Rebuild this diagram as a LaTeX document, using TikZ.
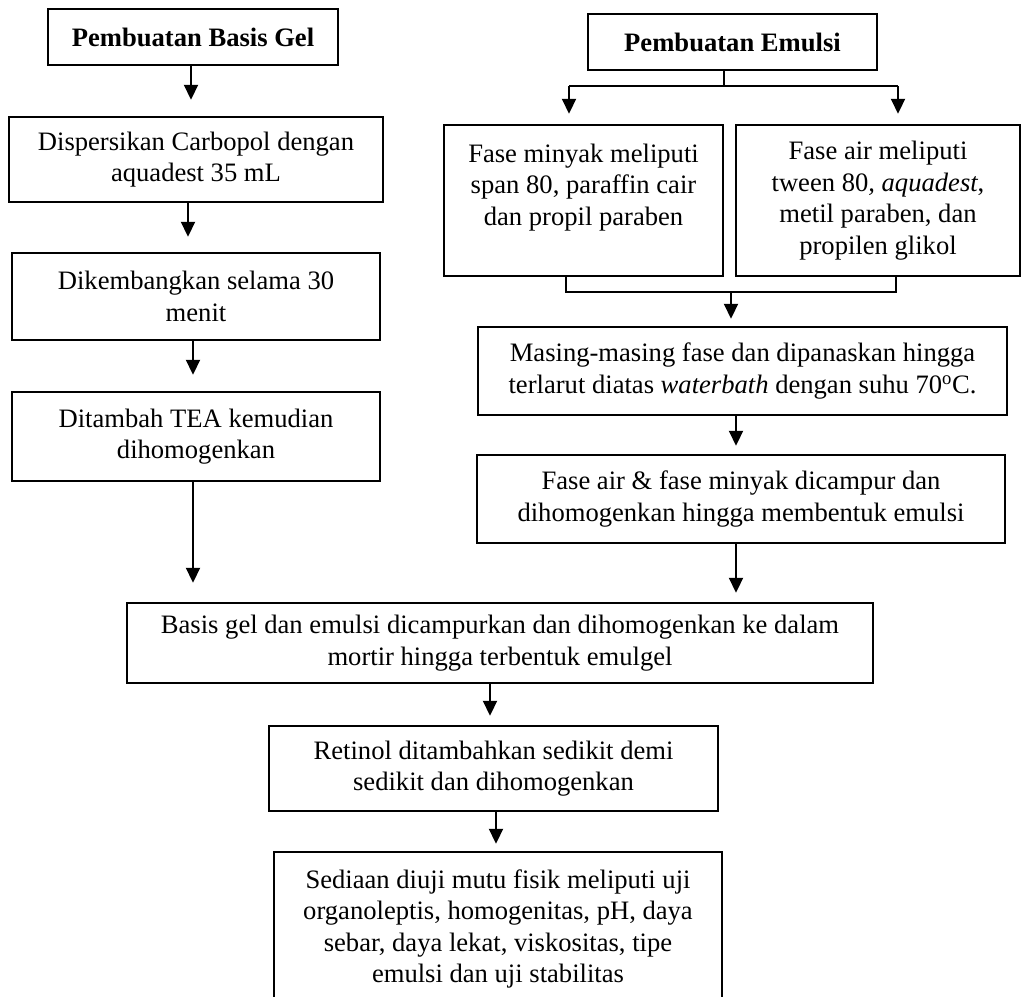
\documentclass[tikz,border=0pt]{standalone}
\usepackage{fontspec}
\setmainfont{Liberation Serif}
\usetikzlibrary{arrows.meta}
\begin{document}
\begin{tikzpicture}[x=1pt,y=-1pt,
  box/.style={draw,line width=2.5pt,align=center,inner sep=0pt,
    font=\fontsize{26.6}{31.5}\selectfont},
  arr/.style={line width=2.2pt,-{Triangle[length=15pt,width=14pt]}},
  ln/.style={line width=2.2pt}]
\useasboundingbox (0,0) rectangle (1025,996);
% left column
\node[box,minimum width=290pt,minimum height=56pt,font=\fontsize{26.6}{31.5}\selectfont\bfseries] (a1) at (193,37) {Pembuatan Basis Gel};
\node[box,minimum width=374pt,minimum height=85pt] (a2) at (196,159.5) {Dispersikan Carbopol dengan\\aquadest 35 mL};
\node[box,minimum width=368pt,minimum height=87pt] (a3) at (196,296.5) {Dikembangkan selama 30\\menit};
\node[box,minimum width=368pt,minimum height=89pt] (a4) at (196,436.5) {Ditambah TEA kemudian\\dihomogenkan};
% right column
\node[box,minimum width=289pt,minimum height=56pt,font=\fontsize{26.6}{31.5}\selectfont\bfseries] (b1) at (732.5,42) {Pembuatan Emulsi};
\node[box,minimum width=279pt,minimum height=151pt] (b2) at (583.5,200.5) {Fase minyak meliputi\\span 80, paraffin cair\\dan propil paraben\\\mbox{}};
\node[box,minimum width=284pt,minimum height=151pt] (b3) at (878,200.5) {Fase air meliputi\\tween 80\textit{, aquadest},\\metil paraben, dan\\propilen glikol};
\node[box,minimum width=529pt,minimum height=88pt] (b4) at (742.5,371) {Masing-masing fase dan dipanaskan hingga\\terlarut diatas \textit{waterbath} dengan suhu 70\textsuperscript{o}C.};
\node[box,minimum width=528pt,minimum height=88pt] (b5) at (741,499) {Fase air \& fase minyak dicampur dan\\dihomogenkan hingga membentuk emulsi};
% bottom
\node[box,minimum width=746pt,minimum height=80pt] (c1) at (500,643) {Basis gel dan emulsi dicampurkan dan dihomogenkan ke dalam\\mortir hingga terbentuk emulgel};
\node[box,minimum width=449pt,minimum height=85pt] (c2) at (493.5,768.5) {Retinol ditambahkan sedikit demi\\sedikit dan dihomogenkan};
\node[box,minimum width=448pt,minimum height=154pt] (c3) at (498,929) {Sediaan diuji mutu fisik meliputi uji\\organoleptis, homogenitas, pH, daya\\sebar, daya lekat, viskositas, tipe\\emulsi dan uji stabilitas};
% left arrows
\draw[arr,shorten >=16pt] (a1.south -| 191,0) -- (a2.north -| 191,0);
\draw[arr,shorten >=15pt] (a2.south -| 188,0) -- (a3.north -| 188,0);
\draw[arr,shorten >=16pt] (a3.south -| 193,0) -- (a4.north -| 193,0);
\draw[arr,shorten >=19pt] (a4.south -| 193,0) -- (c1.north -| 193,0);
% emulsion split
\coordinate (s) at (724,86);
\coordinate (sl) at (569,86);
\coordinate (sr) at (898,86);
\draw[ln] (b1.south -| s) -- (s);
\draw[ln] (sl) -- (sr);
\draw[arr,shorten >=10pt] (sl) -- (b2.north -| sl);
\draw[arr,shorten >=10pt] (sr) -- (b3.north -| sr);
% join
\coordinate (jl) at (566,292);
\coordinate (jr) at (896,292);
\coordinate (j) at (731,292);
\draw[ln] (b2.south -| jl) -- (jl) -- (jr) -- (b3.south -| jr);
\draw[arr,shorten >=7pt] (j) -- (b4.north -| j);
\draw[arr,shorten >=8pt] (b4.south -| 736,0) -- (b5.north -| 736,0);
\draw[arr,shorten >=9pt] (b5.south -| 736,0) -- (c1.north -| 736,0);
\draw[arr,shorten >=9pt] (c1.south -| 490,0) -- (c2.north -| 490,0);
\draw[arr,shorten >=7pt] (c2.south -| 496,0) -- (c3.north -| 496,0);
\end{tikzpicture}
\end{document}
